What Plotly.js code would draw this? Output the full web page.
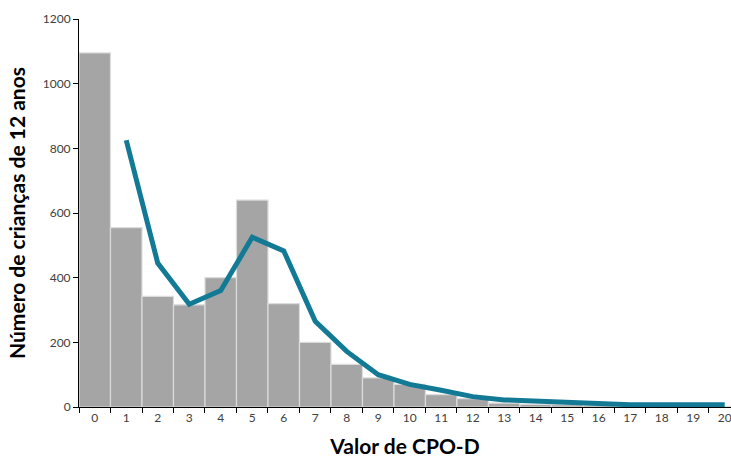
<!DOCTYPE html>
<html>
<head>
<meta charset="utf-8">
<script src="https://cdn.plot.ly/plotly-3.0.1.min.js"></script>
<style>html,body{margin:0;padding:0;background:#fff;overflow:hidden;}#chart{width:731px;height:459px;}</style>
</head>
<body>
<div id="chart"></div>
<script>
const categories = ["0","1","2","3","4","5","6","7","8","9","10","11","12","13","14","15","16","17","18","19","20"];
const barValues = [1095, 555, 342, 316, 400, 640, 320, 200, 132, 90, 70, 38, 26, 12, 8, 7, 5, 3, 3, 2, 2];
const lineCategories = ["1","2","3","4","5","6","7","8","9","10","11","12","13","14","15","16","17","18","19","20"];
const lineValues = [825, 445, 318, 360, 525, 483, 265, 172, 100, 70, 52, 32, 22, 18, 15, 12, 7, 7, 7, 7];
const yTicks = [0, 200, 400, 600, 800, 1000, 1200];

const traces = [
  {
    type: 'bar', x: categories, y: barValues,
    marker: {color: '#a5a5a5', line: {color: '#dcdcdc', width: 1.2}},
    hoverinfo: 'skip'
  },
  {
    type: 'scatter', mode: 'lines', x: lineCategories, y: lineValues,
    line: {color: '#137a96', width: 5},
    cliponaxis: false,
    hoverinfo: 'skip'
  }
];

const layout = {
  width: 731, height: 459,
  margin: {l: 79, r: 0, t: 19, b: 52},
  paper_bgcolor: '#fff', plot_bgcolor: '#fff',
  showlegend: false,
  bargap: 0,
  font: {family: 'Lato, Carlito, sans-serif', color: '#404040', size: 12},
  xaxis: {
    type: 'category', categoryorder: 'array', categoryarray: categories,
    range: [-0.5, 20.2],
    showline: true, linecolor: '#000', linewidth: 1,
    ticks: 'outside', tickson: 'boundaries', ticklen: 5, tickcolor: '#000',
    showgrid: false, zeroline: false,
    tickfont: {size: 12, color: '#404040'},
    title: {text: 'Valor de CPO-D', font: {size: 21, color: '#000', family: 'Lato, sans-serif', weight: 'bold'}, standoff: 14}
  },
  yaxis: {
    range: [0, 1200], tickvals: yTicks,
    showline: true, linecolor: '#000', linewidth: 1,
    ticks: 'outside', ticklen: 5, tickcolor: '#000',
    showgrid: false, zeroline: false,
    tickfont: {size: 12, color: '#404040'},
    title: {text: 'Número de crianças de 12 anos', font: {size: 21, color: '#000', family: 'Lato, sans-serif', weight: 'bold'}, standoff: 11}
  }
};

Plotly.newPlot('chart', traces, layout, {staticPlot: true, displayModeBar: false});
</script>
</body>
</html>
